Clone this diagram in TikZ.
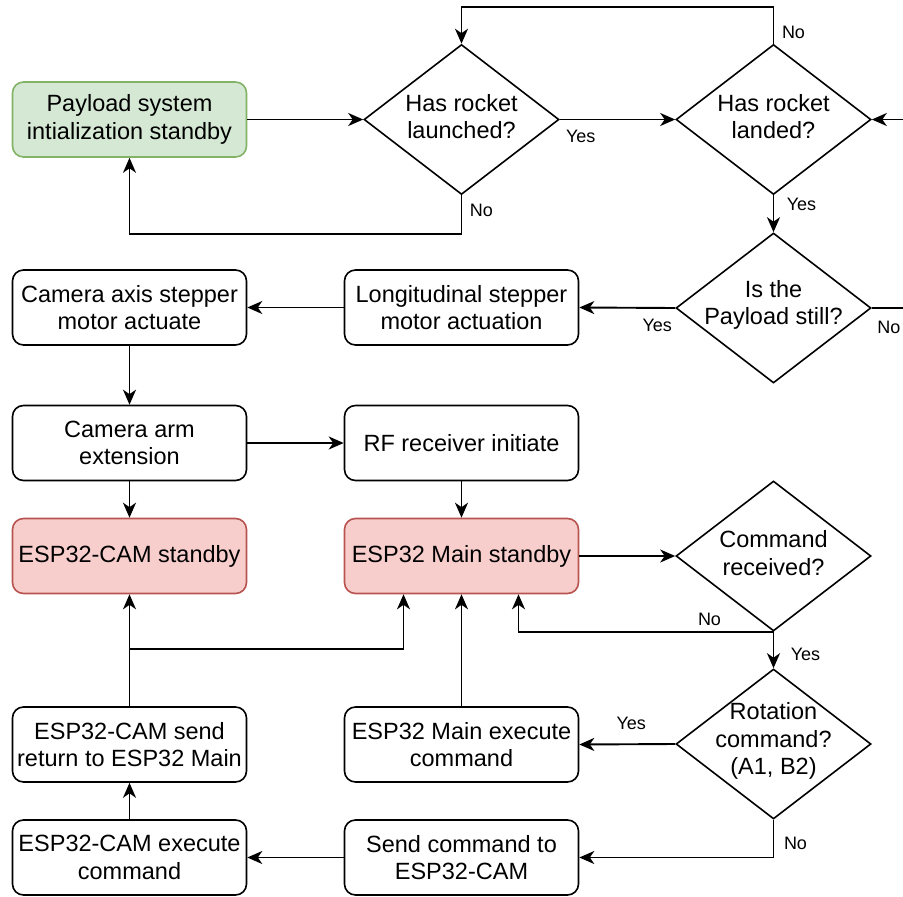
\documentclass[tikz,border=0pt]{standalone}
\usepackage{fontspec}
\setmainfont{Liberation Sans}
\usetikzlibrary{shapes.geometric}
\usetikzlibrary{arrows.meta}
\definecolor{startfill}{HTML}{D5E8D4}
\definecolor{startline}{HTML}{82B366}
\definecolor{standbyfill}{HTML}{F8CECC}
\definecolor{standbyline}{HTML}{B85450}
\newcommand{\boxfont}{\fontsize{23.5}{27.8}\selectfont}
\newcommand{\branchfont}{\fontsize{18}{21}\selectfont}
\tikzstyle{process}=[draw, rounded corners=11pt, line width=1.6pt, inner sep=0,
                     minimum width=234pt, minimum height=75pt, align=center, font=\boxfont]
\tikzstyle{startbox}=[process, fill=startfill, draw=startline]
\tikzstyle{standbybox}=[process, fill=standbyfill, draw=standbyline]
\tikzstyle{decision}=[draw, diamond, inner sep=0, line width=1.6pt,
                      minimum width=195pt, minimum height=150pt]
\tikzstyle{decisiontext}=[align=center, font=\boxfont, inner sep=0, yshift=3pt]
\tikzstyle{branch}=[font=\branchfont, inner sep=0, anchor=center]
\tikzstyle{flowchart}=[x=1pt, y=-1pt, line width=1.9pt,
                       >={Stealth[length=15pt, width=13pt, inset=4.5pt]},
                       % Fix the page to the size of the drawing.
                       execute at begin picture={\useasboundingbox (0, 0) rectangle (903, 897);}]
\begin{document}
\begin{tikzpicture}[flowchart]
    \node[startbox] (init) at (129.5, 119.5) {Payload system\\intialization standby};
    \node[decision, label={[decisiontext]center:Has rocket\\launched?}] (launched) at (461.5, 119.5) {};
    \node[decision, label={[decisiontext]center:Has rocket\\landed?}] (landed) at (773.5, 119.5) {};
    \node[decision, label={[decisiontext]center:Is the\\Payload still?}] (still) at (773.5, 308) {};
    \node[process] (longitudinal) at (461.5, 307.5) {Longitudinal stepper\\motor actuation};
    \node[process] (camaxis) at (129.5, 307.5) {Camera axis stepper\\motor actuate};
    \node[process] (camarm) at (129.5, 443) {Camera arm\\extension};
    \node[process] (rfinit) at (461.5, 443) {RF receiver initiate};
    \node[standbybox] (camstandby) at (129.5, 556) {ESP32-CAM standby};
    \node[standbybox] (mainstandby) at (461.5, 556) {ESP32 Main standby};
    \node[decision, label={[decisiontext]center:Command\\received?}] (received) at (773.5, 556) {};
    \node[decision, label={[decisiontext]center:{Rotation\\command?\\(A1, B2)}}] (rotation) at (773.5, 744) {};
    \node[process] (mainexec) at (461.5, 744.5) {ESP32 Main execute\\command};
    \node[process] (camreturn) at (129.5, 744.5) {ESP32-CAM send\\return to ESP32 Main};
    \node[process] (camexec) at (129.5, 857.5) {ESP32-CAM execute\\command};
    \node[process] (sendcmd) at (461.5, 857.5) {Send command to\\ESP32-CAM};

    \draw[->] (init) -- (launched);
    \draw[->] (launched.east) -- node[branch, pos=0, shift={(21, 17)}] {Yes} (landed.west);
    \draw[->] (launched.south) -- node[branch, pos=0, shift={(20, 15)}] {No} ++(0, 39) -| (init.south);
    \draw[->] (landed.north) -- node[branch, pos=0, shift={(20, -11)}] {No} ++(0, -37) -| (launched.north);
    \draw[->] (landed.south) -- node[branch, pos=0, shift={(28, 9)}] {Yes} (still.north);
    \draw[->] (still.east) -- node[branch, pos=0, shift={(17, 19)}] {No} ++(45, 0) |- (landed.east);
    \draw[->] (still.west) -- node[branch, pos=0, shift={(-18, 17)}] {Yes} (longitudinal.east);
    \draw[->] (longitudinal) -- (camaxis);
    \draw[->] (camaxis) -- (camarm);
    \draw[->] (camarm) -- (rfinit);
    \draw[->] (camarm) -- (camstandby);
    \draw[->] (rfinit) -- (mainstandby);
    \draw[->] (mainstandby) -- (received);
    \draw[->] (received.south) -- node[branch, pos=0, shift={(32, 23)}] {Yes} (rotation.north);
    \draw[->] (received.south) -- node[branch, pos=0, shift={(-64, -12)}] {No} ([xshift=57pt]mainstandby.south |- received.south) -- ([xshift=57pt]mainstandby.south);
    \draw[->] (rotation.west) -- node[branch, pos=0, shift={(-44, -21)}] {Yes} (mainexec.east);
    \draw[->] (mainexec) -- (mainstandby);
    \draw[->] (rotation.south) |- node[branch, pos=0, shift={(22, 24)}] {No} (sendcmd.east);
    \draw[->] (sendcmd) -- (camexec);
    \draw[->] (camexec) -- (camreturn);
    \draw[->] (camreturn) -- (camstandby);
    \draw[->] (camreturn.north) ++(0, -57) -| ([xshift=-58pt]mainstandby.south);
\end{tikzpicture}
\end{document}
